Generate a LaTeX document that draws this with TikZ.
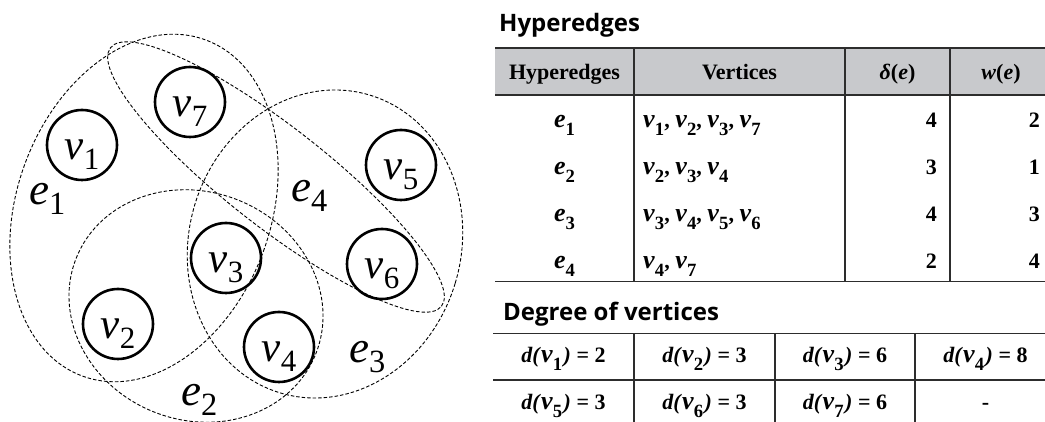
\documentclass[tikz,border=0pt]{standalone}
\usepackage{fontspec}
\usepackage{graphicx}
\setmainfont{Liberation Serif}
\newfontfamily\headfont{Open Sans}
\definecolor{hdrgray}{RGB}{200,201,204}
\definecolor{rulegray}{RGB}{45,45,45}
\newcommand\vsub[2]{\textit{#1}\raisebox{-0.22em}{\scalebox{0.72}{#2}}}
\newcommand\tsub[2]{{\fontsize{26}{26}\selectfont\textit{#1}}\raisebox{-0.36em}{\scalebox{0.85}{#2}}}

\begin{document}
\begin{tikzpicture}[x=1pt, y=1pt,
  vtx/.style={draw, circle, line width=2.6pt, minimum size=70pt, inner sep=0pt,
              text height=40pt, text depth=10pt, font=\fontsize{43}{43}\selectfont},
  hedge/.style={draw, line width=0.9pt, dash pattern=on 3.5pt off 2pt},
  elab/.style={anchor=base west, inner sep=0pt, font=\fontsize{45}{45}\selectfont},
  cell/.style={anchor=base, inner sep=0pt, font=\fontsize{22}{22}\selectfont\bfseries},
  ttl/.style={anchor=base west, inner sep=0pt, font=\headfont\fontsize{24}{24}\selectfont\bfseries},
  tblrule/.style={draw=rulegray, line width=1.6pt}
]
  \useasboundingbox (0,0) rectangle (1045,422);

  % hypergraph
  \coordinate (c1) at (144,214);
  \coordinate (c2) at (196,116);
  \coordinate (c3) at (325,178);
  \coordinate (c4) at (276,245);
  \draw[hedge, rotate around={-20:(c1)}] (c1) ellipse [x radius=127, y radius=179];
  \draw[hedge, rotate around={-22:(c2)}] (c2) ellipse [x radius=129, y radius=114];
  \draw[hedge, rotate around={-16.7:(c3)}] (c3) ellipse [x radius=136, y radius=155.5];
  \draw[hedge, rotate around={-38:(c4)}] (c4) ellipse [x radius=210, y radius=50];

  \node[vtx] (v1) at (82,277) {\vsub{v}{1}};
  \node[vtx] (v2) at (118,98) {\vsub{v}{2}};
  \node[vtx] (v3) at (226,164) {\vsub{v}{3}};
  \node[vtx] (v4) at (279,75) {\vsub{v}{4}};
  \node[vtx] (v5) at (401,257) {\vsub{v}{5}};
  \node[vtx] (v6) at (382,158) {\vsub{v}{6}};
  \node[vtx] (v7) at (190,320) {\vsub{v}{7}};

  \node[elab] (le1) at (29,217) {\vsub{e}{1}};
  \node[elab] (le2) at (181,16) {\vsub{e}{2}};
  \node[elab] (le3) at (349,59) {\vsub{e}{3}};
  \node[elab] (le4) at (291,220) {\vsub{e}{4}};

  % hyperedge table
  \node[ttl] (ttlA) at (499,390) {Hyperedges};
  \fill[hdrgray] (495,327) rectangle (1045,373.7);
  \draw[tblrule] (495,373.7) -- (1045,373.7);
  \draw[tblrule] (495,327) -- (1045,327);
  \draw[tblrule] (495,140.3) -- (1045,140.3);
  \foreach \x in {634,845,950}
    \draw[tblrule] (\x,373.7) -- (\x,140.3);

  \node[cell] (hA) at (564.5,342) {Hyperedges};
  \node[cell] (hB) at (739.5,342) {Vertices};
  \node[cell] (hC) at (897.5,342) {\textit{δ}(\textit{e})};
  \node[cell] (hD) at (1001,342) {\textit{w}(\textit{e})};

  \foreach \i/\y/\vs/\dg/\wt in {
      1/294/{\tsub{v}{1}, \tsub{v}{2}, \tsub{v}{3}, \tsub{v}{7}}/4/2,
      2/247/{\tsub{v}{2}, \tsub{v}{3}, \tsub{v}{4}}/3/1,
      3/200/{\tsub{v}{3}, \tsub{v}{4}, \tsub{v}{5}, \tsub{v}{6}}/4/3,
      4/153/{\tsub{v}{4}, \tsub{v}{7}}/2/4} {
    \node[cell] (ed\i) at (564.5,\y) {\tsub{e}{\i}};
    \node[cell, anchor=base west] (vl\i) at (643,\y) {\vs};
    \node[cell, anchor=base east] (dg\i) at (937,\y) {\dg};
    \node[cell, anchor=base east] (wt\i) at (1040,\y) {\wt};
  }

  % degree table
  \node[ttl] (ttlB) at (503,101) {Degree of vertices};
  \draw[tblrule] (493,88.3) -- (1045,88.3);
  \draw[tblrule] (493,41.7) -- (1045,41.7);
  \foreach \x in {634,775,915}
    \draw[tblrule] (\x,88.3) -- (\x,0);

  \node[cell] (dv1) at (563.5,59.3) {\textit{d(}\tsub{v}{1}\kern1.5pt\textit{)} = 2};
  \node[cell] (dv2) at (704.5,59.3) {\textit{d(}\tsub{v}{2}\kern1.5pt\textit{)} = 3};
  \node[cell] (dv3) at (845,59.3) {\textit{d(}\tsub{v}{3}\kern1.5pt\textit{)} = 6};
  \node[cell] (dv4) at (985.5,59.3) {\textit{d(}\tsub{v}{4}\kern1.5pt\textit{)} = 8};
  \node[cell] (dv5) at (563.5,12.7) {\textit{d(}\tsub{v}{5}\kern1.5pt\textit{)} = 3};
  \node[cell] (dv6) at (704.5,12.7) {\textit{d(}\tsub{v}{6}\kern1.5pt\textit{)} = 3};
  \node[cell] (dv7) at (845,12.7) {\textit{d(}\tsub{v}{7}\kern1.5pt\textit{)} = 6};
  \node[cell] (dnone) at (985.5,12.7) {-};
\end{tikzpicture}
\end{document}
